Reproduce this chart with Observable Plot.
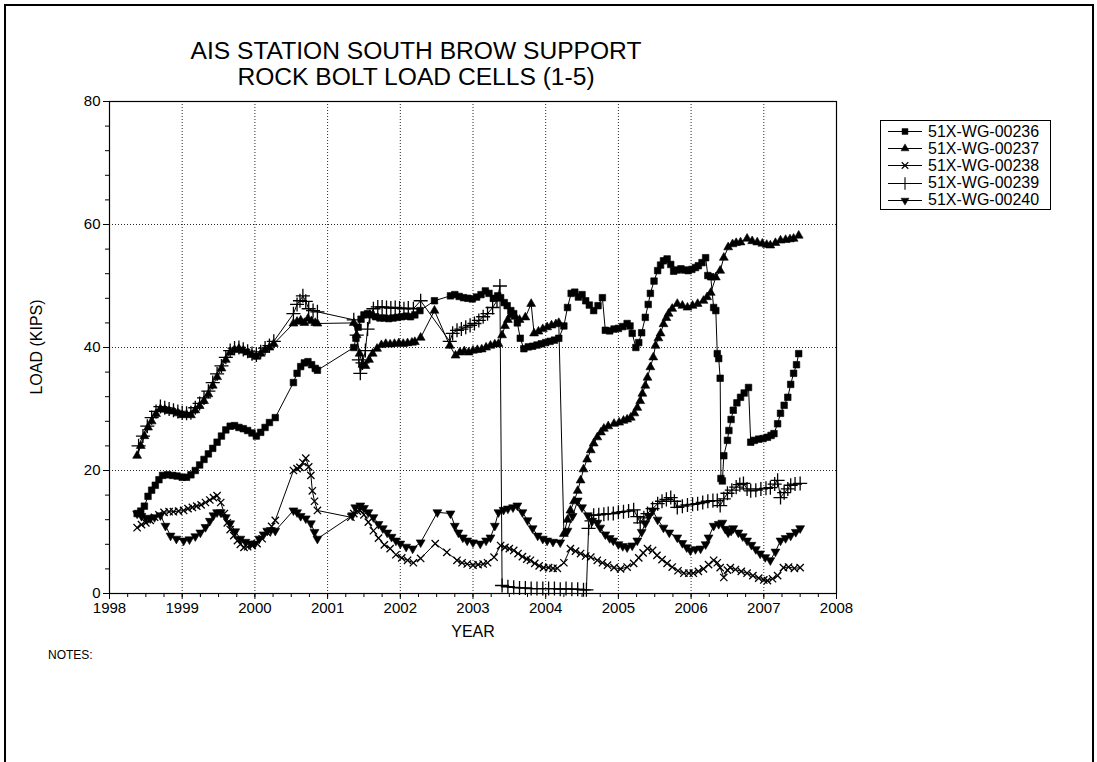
<!DOCTYPE html>
<html>
<head>
<meta charset="utf-8">
<script src="https://cdn.jsdelivr.net/npm/d3@7"></script>
<script src="https://cdn.jsdelivr.net/npm/@observablehq/plot@0.6"></script>
<style>
  html, body { margin: 0; padding: 0; background: #fff; }
  #page { position: relative; width: 1097px; height: 762px; overflow: hidden; font-family: "Liberation Sans", Arial, sans-serif; color: #000; }
  #border { position: absolute; left: 4px; top: 4px; width: 1086px; height: 900px; border: 2px solid #000; }
  #chart { position: absolute; left: 0; top: 0; }
  .title { position: absolute; left: 110px; width: 612px; text-align: center; font-size: 24.6px; line-height: 26px; }
  #ylabel { position: absolute; left: 37px; top: 347px; transform: translate(-50%, -50%) rotate(-90deg); font-size: 16px; white-space: nowrap; }
  #xlabel { position: absolute; left: 473px; top: 632px; transform: translate(-50%, -50%); font-size: 16px; }
  #notes { position: absolute; left: 48px; top: 648px; font-size: 12px; }
  #legend { position: absolute; left: 880px; top: 120px; width: 169px; height: 88px; border: 1px solid #000; background: #fff; }
  .lrow { position: absolute; left: 6px; height: 17px; display: flex; align-items: center; font-size: 16px; white-space: nowrap; }
  .lrow svg { margin-right: 5px; }
</style>
</head>
<body>
<div id="page">
  <div id="border"></div>
  <div id="chart"></div>
  <div class="title" style="top:38px">AIS STATION SOUTH BROW SUPPORT</div>
  <div class="title" style="top:64px">ROCK BOLT LOAD CELLS (1-5)</div>
  <div id="ylabel">LOAD (KIPS)</div>
  <div id="xlabel">YEAR</div>
  <div id="notes">NOTES:</div>
  <div id="legend"></div>
</div>
<script>
const seriesNames = ["51X-WG-00236", "51X-WG-00237", "51X-WG-00238", "51X-WG-00239", "51X-WG-00240"];
const xTicks = [1998, 1999, 2000, 2001, 2002, 2003, 2004, 2005, 2006, 2007, 2008];
const yTicks = [0, 20, 40, 60, 80];

const s00236 = [[1998.38,13.0],[1998.43,13.4],[1998.48,14.2],[1998.53,15.8],[1998.58,16.8],[1998.63,17.6],[1998.68,18.5],[1998.73,19.2],[1998.80,19.3],[1998.87,19.2],[1998.93,19.1],[1999.00,18.9],[1999.06,18.9],[1999.12,19.3],[1999.18,20.0],[1999.24,20.9],[1999.30,21.8],[1999.36,22.7],[1999.42,23.6],[1999.48,24.6],[1999.54,25.6],[1999.60,26.6],[1999.66,27.2],[1999.72,27.3],[1999.78,27.0],[1999.84,26.8],[1999.90,26.5],[1999.96,26.1],[2000.02,25.6],[2000.08,26.2],[2000.14,27.0],[2000.20,27.8],[2000.28,28.6],
[2000.53,34.3],[2000.58,35.8],[2000.63,36.9],[2000.68,37.5],[2000.73,37.7],[2000.78,37.2],[2000.83,36.6],[2000.86,36.3],
[2001.36,40.0],[2001.39,41.5],[2001.42,43.3],[2001.46,44.6],[2001.50,45.3],[2001.55,45.5],[2001.60,45.3],[2001.66,45.0],[2001.72,44.8],[2001.78,44.8],[2001.84,44.7],[2001.90,44.8],[2001.96,44.9],[2002.02,45.0],[2002.08,45.1],[2002.14,45.0],[2002.20,45.3],
[2002.27,46.0],[2002.47,47.6],[2002.69,48.4],[2002.75,48.6],[2002.81,48.3],[2002.87,48.1],[2002.93,48.0],[2002.99,47.9],[2003.05,48.2],[2003.11,48.6],[2003.17,49.2],[2003.22,48.8],[2003.28,48.0],[2003.34,48.4],[2003.38,48.1],[2003.43,47.3],[2003.47,46.8],[2003.52,46.0],[2003.56,45.5],[2003.61,44.0],[2003.65,41.5],[2003.70,39.8],[2003.76,40.1],[2003.82,40.2],[2003.88,40.4],[2003.94,40.6],[2004.00,40.8],[2004.06,41.0],[2004.12,41.2],[2004.18,41.5],
[2004.25,43.5],[2004.30,46.5],[2004.35,48.8],[2004.40,49.0],[2004.45,48.2],[2004.50,48.6],[2004.55,47.6],[2004.60,46.9],[2004.66,46.0],[2004.72,46.8],[2004.78,48.1],[2004.82,42.8],[2004.88,42.7],[2004.94,43.0],[2005.00,43.1],[2005.06,43.4],[2005.12,43.9],[2005.16,43.5],[2005.19,42.3],[2005.24,40.0],[2005.28,40.8],[2005.32,42.4],[2005.37,44.9],[2005.41,47.0],[2005.44,48.8],[2005.49,50.8],[2005.54,52.5],[2005.58,53.4],[2005.62,54.1],[2005.67,54.4],[2005.72,53.5],[2005.76,52.4],[2005.81,52.6],[2005.86,52.8],[2005.91,52.6],[2005.96,52.5],[2006.01,52.7],[2006.06,53.0],[2006.10,53.3],[2006.15,53.8],[2006.20,54.6],[2006.23,51.7],[2006.27,51.5],[2006.31,46.5],[2006.34,46.0],[2006.36,39.0],[2006.38,38.2],[2006.40,35.0],[2006.41,18.7],[2006.43,18.3],[2006.45,22.4],[2006.50,24.9],[2006.52,26.5],[2006.55,28.3],[2006.58,29.8],[2006.63,31.0],[2006.68,31.9],[2006.73,32.6],[2006.79,33.5],[2006.82,24.6],[2006.87,24.9],[2006.93,25.1],[2006.99,25.2],[2007.05,25.4],[2007.10,25.7],[2007.14,26.0],[2007.19,27.6],[2007.23,29.3],[2007.28,30.6],[2007.33,31.9],[2007.37,34.0],[2007.41,35.8],[2007.45,37.2],[2007.48,39.0]];

const s00237 = [[1998.38,22.4],[1998.43,24.0],[1998.48,25.6],[1998.53,27.0],[1998.58,28.0],[1998.64,29.2],[1998.70,30.0],[1998.76,29.9],[1998.82,29.7],[1998.88,29.6],[1998.94,29.3],[1999.00,29.0],[1999.06,29.1],[1999.12,29.0],[1999.18,29.8],[1999.24,30.5],[1999.30,31.3],[1999.36,32.4],[1999.42,33.8],[1999.48,35.2],[1999.54,36.6],[1999.60,38.0],[1999.66,39.2],[1999.72,39.6],[1999.78,39.8],[1999.84,39.5],[1999.90,39.2],[1999.96,38.8],[2000.02,38.5],[2000.08,39.0],[2000.14,39.6],[2000.20,40.0],[2000.26,40.6],
[2000.53,43.9],[2000.58,44.2],[2000.63,44.4],[2000.68,44.0],[2000.73,44.7],[2000.78,44.3],[2000.83,44.0],[2000.86,43.9],
[2001.36,44.0],[2001.40,42.0],[2001.44,39.0],[2001.48,37.2],[2001.52,37.0],[2001.57,38.0],[2001.62,39.0],[2001.68,39.8],[2001.74,40.4],[2001.80,40.6],[2001.86,40.5],[2001.92,40.6],[2001.98,40.7],[2002.04,40.6],[2002.10,40.7],[2002.16,40.8],[2002.20,40.9],
[2002.28,41.6],[2002.47,46.0],[2002.68,40.3],[2002.76,38.7],[2002.82,39.2],[2002.88,39.4],[2002.94,39.2],[2003.00,39.5],[2003.06,39.6],[2003.12,39.7],[2003.18,40.0],[2003.24,40.3],[2003.30,40.5],[2003.35,40.6],[2003.40,42.0],[2003.44,43.5],[2003.48,44.5],[2003.52,45.3],[2003.58,45.0],[2003.64,44.5],[2003.72,44.9],[2003.80,47.1],[2003.84,42.3],[2003.90,42.6],[2003.96,43.0],[2004.02,43.3],[2004.08,43.6],[2004.14,43.8],[2004.18,44.0],
[2004.25,9.7],[2004.30,12.0],[2004.34,13.5],[2004.39,15.0],[2004.44,16.7],[2004.48,18.4],[2004.52,20.2],[2004.57,21.8],[2004.62,23.3],[2004.66,24.4],[2004.71,25.4],[2004.76,26.2],[2004.80,26.8],[2004.86,27.2],[2004.94,27.6],[2005.01,27.8],[2005.07,28.1],[2005.12,28.3],[2005.17,28.6],[2005.22,29.3],[2005.26,30.2],[2005.30,31.3],[2005.33,32.5],[2005.37,33.8],[2005.40,35.1],[2005.44,36.8],[2005.48,38.4],[2005.51,40.3],[2005.55,41.5],[2005.58,42.3],[2005.62,43.8],[2005.66,44.8],[2005.69,45.5],[2005.74,46.3],[2005.81,47.1],[2005.88,46.8],[2005.95,46.5],[2006.02,46.8],[2006.09,47.1],[2006.17,47.6],[2006.22,48.2],[2006.27,48.9],[2006.34,51.4],[2006.40,52.5],[2006.45,54.6],[2006.51,56.3],[2006.57,56.8],[2006.62,57.0],[2006.68,57.1],[2006.77,57.7],[2006.84,57.3],[2006.91,57.1],[2006.98,56.9],[2007.04,56.7],[2007.09,56.6],[2007.16,57.0],[2007.23,57.4],[2007.30,57.5],[2007.36,57.6],[2007.41,57.7],[2007.48,58.2]];

const s00238 = [[1998.38,10.7],[1998.44,11.2],[1998.50,11.5],[1998.56,11.9],[1998.62,12.4],[1998.68,12.8],[1998.75,13.2],[1998.82,13.3],[1998.88,13.3],[1998.95,13.4],[1999.02,13.5],[1999.08,13.8],[1999.14,14.0],[1999.20,14.2],[1999.26,14.4],[1999.32,14.8],[1999.38,15.2],[1999.43,15.6],[1999.48,15.9],[1999.53,14.8],[1999.58,13.0],[1999.62,11.5],[1999.66,10.4],[1999.71,9.4],[1999.76,8.6],[1999.80,8.0],[1999.85,7.5],[1999.90,7.6],[1999.96,7.8],[2000.03,8.1],[2000.10,8.9],[2000.17,9.9],[2000.23,10.9],[2000.28,11.9],
[2000.53,20.0],[2000.58,20.3],[2000.62,20.5],[2000.66,21.3],[2000.70,22.0],[2000.74,20.6],[2000.77,19.2],[2000.79,16.7],[2000.82,15.0],[2000.86,13.5],
[2001.32,12.4],[2001.36,13.0],[2001.41,13.4],[2001.45,13.5],[2001.50,12.8],[2001.56,11.6],[2001.63,10.2],[2001.70,9.0],[2001.78,7.9],[2001.86,7.3],[2001.94,6.3],[2002.02,5.8],[2002.10,5.4],[2002.18,5.0],
[2002.28,5.7],[2002.48,8.1],[2002.64,6.7],[2002.78,5.4],[2002.85,5.0],[2002.92,4.8],[2003.00,4.6],[2003.07,4.7],[2003.14,4.8],[2003.20,5.0],[2003.29,5.9],[2003.38,7.8],[2003.44,7.5],[2003.50,7.3],[2003.56,7.0],[2003.62,6.5],[2003.68,6.0],[2003.74,5.6],[2003.79,5.4],[2003.85,4.9],[2003.91,4.5],[2003.97,4.2],[2004.04,4.2],[2004.10,4.1],[2004.16,4.1],[2004.25,5.0],[2004.34,7.3],[2004.41,6.9],[2004.48,6.5],[2004.55,6.1],[2004.62,5.9],[2004.71,5.4],[2004.78,5.0],[2004.85,4.6],[2004.94,4.2],[2005.03,4.0],[2005.12,4.3],[2005.21,4.9],[2005.28,5.8],[2005.34,6.6],[2005.40,7.3],[2005.47,7.0],[2005.53,6.2],[2005.60,5.5],[2005.67,4.9],[2005.74,4.3],[2005.82,3.7],[2005.90,3.3],[2005.97,3.3],[2006.03,3.3],[2006.10,3.6],[2006.17,4.0],[2006.24,4.7],[2006.31,5.4],[2006.36,5.0],[2006.40,4.2],[2006.45,2.6],[2006.50,3.8],[2006.54,4.2],[2006.61,3.9],[2006.69,3.6],[2006.77,3.3],[2006.85,2.9],[2006.93,2.5],[2007.00,2.2],[2007.05,2.1],[2007.12,2.4],[2007.19,2.9],[2007.27,4.2],[2007.34,4.3],[2007.42,4.1],[2007.50,4.2]];

const s00239 = [[1998.40,24.0],[1998.46,25.6],[1998.52,27.2],[1998.58,28.6],[1998.64,29.6],[1998.70,30.4],[1998.76,30.2],[1998.82,30.0],[1998.88,29.8],[1998.94,29.6],[1999.00,29.4],[1999.06,29.3],[1999.12,29.4],[1999.18,30.2],[1999.24,30.9],[1999.30,31.8],[1999.36,32.9],[1999.42,34.3],[1999.48,35.7],[1999.54,37.0],[1999.60,38.4],[1999.66,39.5],[1999.72,39.9],[1999.78,40.0],[1999.84,39.7],[1999.90,39.4],[1999.96,39.0],[2000.02,38.8],[2000.08,39.3],[2000.14,39.9],[2000.20,40.3],[2000.26,41.0],
[2000.53,45.5],[2000.58,47.0],[2000.62,47.6],[2000.66,48.4],[2000.70,47.5],[2000.74,46.3],[2000.80,46.0],[2000.86,45.8],
[2001.36,44.5],[2001.40,42.0],[2001.43,38.0],[2001.45,35.8],[2001.48,37.5],[2001.52,39.5],[2001.55,43.0],[2001.58,45.0],[2001.63,46.3],[2001.69,46.6],[2001.75,46.6],[2001.81,46.5],[2001.87,46.4],[2001.93,46.5],[2001.99,46.4],[2002.05,46.3],[2002.11,46.4],[2002.18,46.3],
[2002.28,47.6],[2002.68,41.0],[2002.72,42.3],[2002.78,42.8],[2002.84,43.0],[2002.90,43.3],[2002.96,43.6],[2003.02,43.9],[2003.08,44.4],[2003.14,45.0],[2003.20,45.5],[2003.27,46.5],[2003.33,47.6],[2003.37,50.0],
[2003.40,1.3],[2003.48,1.1],[2003.56,1.0],[2003.64,0.9],[2003.72,0.9],[2003.80,0.8],[2003.88,0.8],[2003.96,0.8],[2004.04,0.8],[2004.12,0.8],[2004.20,0.7],[2004.28,0.8],[2004.36,0.7],[2004.44,0.7],[2004.52,0.6],[2004.56,0.6],
[2004.59,10.6],[2004.63,11.8],[2004.66,12.7],[2004.73,12.8],[2004.80,12.9],[2004.86,13.0],[2004.93,13.0],[2005.00,13.2],[2005.07,13.3],[2005.14,13.4],[2005.21,13.6],[2005.26,12.5],[2005.30,11.5],[2005.35,12.3],[2005.40,13.0],[2005.47,13.8],[2005.54,14.6],[2005.60,15.0],[2005.66,15.3],[2005.72,15.6],[2005.77,15.0],[2005.81,14.0],[2005.88,14.2],[2005.95,14.4],[2006.02,14.5],[2006.09,14.6],[2006.16,14.8],[2006.23,15.0],[2006.30,15.1],[2006.36,15.1],[2006.40,14.3],[2006.45,15.4],[2006.50,16.3],[2006.56,16.8],[2006.62,17.3],[2006.67,17.7],[2006.72,17.9],[2006.77,17.0],[2006.82,16.7],[2006.89,16.8],[2006.96,17.0],[2007.03,17.1],[2007.09,17.2],[2007.15,17.8],[2007.19,18.4],[2007.23,15.6],[2007.28,16.4],[2007.33,17.0],[2007.37,17.6],[2007.43,17.8],[2007.50,17.9]];

const s00240 = [[1998.38,13.0],[1998.44,12.6],[1998.50,12.3],[1998.56,12.2],[1998.62,12.4],[1998.70,12.7],[1998.77,11.0],[1998.84,9.4],[1998.92,8.9],[1999.02,8.6],[1999.10,8.8],[1999.18,9.3],[1999.25,9.9],[1999.32,10.8],[1999.38,11.8],[1999.43,12.7],[1999.48,13.2],[1999.53,13.2],[1999.60,12.4],[1999.66,11.4],[1999.73,10.1],[1999.80,8.9],[1999.87,8.4],[1999.94,8.1],[2000.00,8.1],[2000.06,8.9],[2000.12,9.6],[2000.17,10.2],[2000.22,10.3],[2000.28,10.2],
[2000.53,13.5],[2000.58,13.2],[2000.63,12.6],[2000.70,12.2],[2000.77,11.4],[2000.82,10.0],[2000.86,8.9],
[2001.34,12.7],[2001.38,14.0],[2001.45,14.3],[2001.50,13.9],[2001.56,13.2],[2001.63,12.4],[2001.70,11.3],[2001.76,10.6],[2001.82,9.9],[2001.88,9.2],[2001.94,8.6],[2002.00,8.1],[2002.08,7.6],[2002.17,7.3],
[2002.28,8.3],[2002.51,13.2],[2002.69,13.0],[2002.75,11.0],[2002.80,9.9],[2002.86,9.1],[2002.92,8.6],[2003.00,8.3],[2003.10,8.1],[2003.18,8.6],[2003.24,9.1],[2003.30,11.0],[2003.35,13.2],[2003.42,13.6],[2003.48,13.8],[2003.55,14.0],[2003.61,14.3],[2003.68,13.2],[2003.75,11.9],[2003.82,10.6],[2003.89,9.4],[2003.96,8.9],[2004.02,8.6],[2004.10,8.4],[2004.20,8.3],[2004.30,10.2],[2004.37,12.6],[2004.44,15.1],[2004.50,14.0],[2004.58,12.7],[2004.64,11.8],[2004.71,11.5],[2004.75,10.7],[2004.82,9.6],[2004.88,9.0],[2004.93,8.6],[2005.00,8.0],[2005.06,7.7],[2005.12,7.5],[2005.19,7.8],[2005.26,8.6],[2005.32,10.0],[2005.37,11.4],[2005.42,12.6],[2005.47,13.5],[2005.54,12.0],[2005.62,10.7],[2005.70,9.9],[2005.81,9.1],[2005.88,8.2],[2005.94,7.5],[2005.99,7.0],[2006.06,7.2],[2006.13,7.3],[2006.20,8.0],[2006.24,9.1],[2006.31,11.0],[2006.38,11.3],[2006.43,11.5],[2006.47,10.5],[2006.51,9.9],[2006.55,10.2],[2006.58,10.6],[2006.65,9.9],[2006.71,9.3],[2006.77,8.6],[2006.83,7.9],[2006.89,7.2],[2006.95,6.5],[2007.02,5.9],[2007.09,5.4],[2007.16,6.8],[2007.23,8.6],[2007.30,9.0],[2007.37,9.4],[2007.44,10.0],[2007.50,10.6]];

const series = [s00236, s00237, s00238, s00239, s00240];
const symbols = ["square", "triangle", "times", "plus", "triangle"];
const rotations = [0, 0, 0, 0, 180];
const radii = [3.7, 3.3, 3.4, 4.6, 3.3];

const marks = [
  Plot.gridX(xTicks.slice(1, -1), {stroke: "#000", strokeOpacity: 0.85, strokeDasharray: "1,2", strokeWidth: 1}),
  Plot.gridY([20, 40, 60], {stroke: "#000", strokeOpacity: 0.85, strokeDasharray: "1,2", strokeWidth: 1}),
  Plot.axisX({ticks: d3.range(1998, 2008.01, 0.25), tickSize: 4, tickFormat: () => "", label: null}),
  Plot.axisX({ticks: xTicks, tickSize: 6, tickPadding: 3, tickFormat: "d", label: null}),
  Plot.axisY({ticks: d3.range(0, 80.01, 4), tickSize: 4, tickFormat: () => "", label: null}),
  Plot.axisY({ticks: yTicks, tickSize: 6, tickPadding: 3, tickFormat: "d", label: null}),
  Plot.frame({stroke: "#000", strokeWidth: 1.2})
];
series.forEach((s, i) => {
  marks.push(Plot.line(s, {x: d => d[0], y: d => d[1], stroke: "#000", strokeWidth: 1}));
});
series.forEach((s, i) => {
  const stroked = symbols[i] === "times" || symbols[i] === "plus";
  marks.push(Plot.dot(s, {
    x: d => d[0], y: d => d[1], symbol: symbols[i], r: radii[i], rotate: rotations[i],
    fill: stroked ? "none" : "#000", stroke: "#000", strokeWidth: stroked ? 1.3 : 0.6
  }));
});

const chart = Plot.plot({
  width: 1097,
  height: 762,
  marginLeft: 109,
  marginRight: 261,
  marginTop: 101,
  marginBottom: 169,
  x: {domain: [1998, 2008]},
  y: {domain: [0, 80]},
  style: {fontFamily: "Liberation Sans, Arial, sans-serif", fontSize: "15px", color: "#000", background: "transparent"},
  marks
});
document.getElementById("chart").appendChild(chart);

// Legend
const legend = document.getElementById("legend");
seriesNames.forEach((name, i) => {
  const row = document.createElement("div");
  row.className = "lrow";
  row.style.top = (2 + i * 17.2) + "px";
  const svg = d3.create("svg").attr("width", 36).attr("height", 17);
  svg.append("line").attr("x1", 1).attr("x2", 35).attr("y1", 8.5).attr("y2", 8.5).attr("stroke", "#000").attr("stroke-width", 1);
  const typeMap = {square: d3.symbolSquare, triangle: d3.symbolTriangle, times: d3.symbolTimes, plus: d3.symbolPlus};
  const stroked = symbols[i] === "times" || symbols[i] === "plus";
  const lr = radii[i] * 0.9;
  svg.append("path")
    .attr("d", d3.symbol(typeMap[symbols[i]], Math.PI * lr * lr)())
    .attr("transform", `translate(18,8.5) rotate(${rotations[i]})`)
    .attr("fill", stroked ? "none" : "#000")
    .attr("stroke", "#000")
    .attr("stroke-width", stroked ? 1.1 : 0.5);
  row.appendChild(svg.node());
  const span = document.createElement("span");
  span.textContent = name;
  row.appendChild(span);
  legend.appendChild(row);
});
</script>
</body>
</html>
